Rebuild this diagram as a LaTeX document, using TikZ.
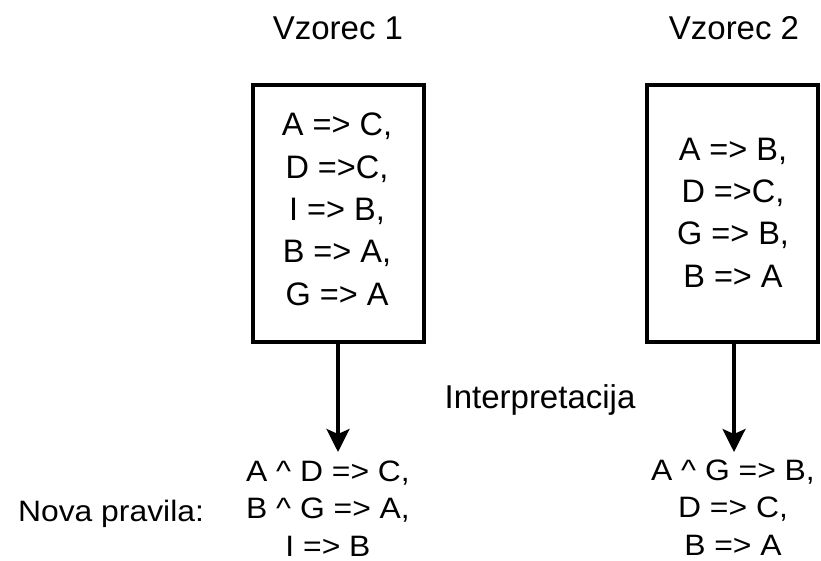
\documentclass[tikz,border=0pt]{standalone}
\usepackage{fontspec}
\setmainfont{Liberation Sans}
\newfontfamily\widefont[FakeStretch=1.08]{Liberation Sans}
\usetikzlibrary{arrows.meta}
\begin{document}
\begin{tikzpicture}[x=1pt,y=-1pt,
  title/.style={font=\fontsize{33}{40}\selectfont, inner sep=0pt, anchor=base},
  rules/.style={font=\fontsize{32.5}{42.3}\selectfont, align=center, inner sep=0pt, anchor=base},
  result/.style={font=\widefont\fontsize{29.5}{37.5}\selectfont, align=center, inner sep=0pt, anchor=base},
  frame/.style={draw=black, line width=3.2pt},
  flow/.style={line width=3.2pt, -{Stealth[length=23pt,width=23pt,inset=5pt]}}]
  \useasboundingbox (0,0) rectangle (821,561);
  % headings
  \node[title] (h1) at (338,40) {Vzorec 1};
  \node[title] (h2) at (734,40) {Vzorec 2};
  % pattern boxes
  \draw[frame] (253,85) rectangle (424,342);
  \draw[frame] (647,85) rectangle (818,342);
  \coordinate (b1) at (338,342);
  \coordinate (b2) at (734,342);
  % multi-line nodes sit on the baseline of their last line
  \node[rules] (r1) at (337,305) {A => C,\\D =>C,\\I => B,\\B => A,\\G => A};
  \node[rules] (r2) at (733,287) {A => B,\\D =>C,\\G => B,\\B => A};
  % interpretation arrows
  \coordinate (t1) at (338,452);
  \coordinate (t2) at (734,452);
  \draw[flow] (b1) -- (t1);
  \draw[flow] (b2) -- (t2);
  \node[title] (ip) at (540,408) {Interpretacija};
  % resulting rules
  \node[result] (lab) at (111,521) {Nova pravila:};
  \node[result] (n1) at (328,556) {A \^{} D => C,\\B \^{} G => A,\\I => B};
  \node[result] (n2) at (733,555) {A \^{} G => B,\\D => C,\\B => A};
\end{tikzpicture}
\end{document}
